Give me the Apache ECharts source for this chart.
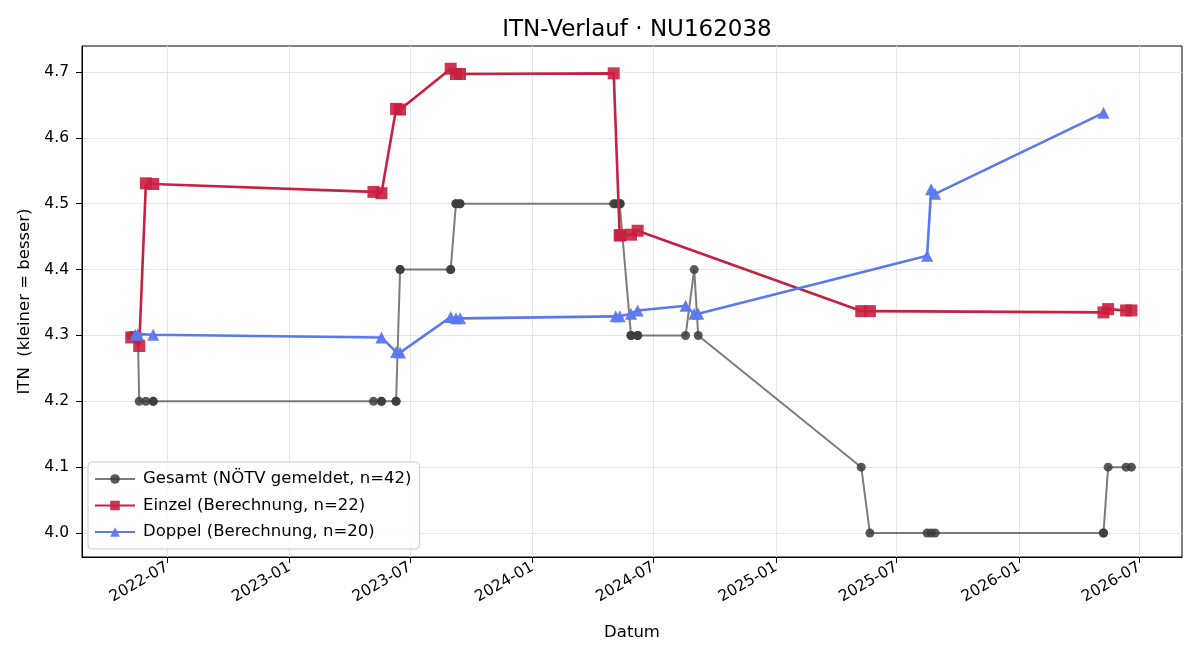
<!DOCTYPE html>
<html>
<head>
<meta charset="utf-8">
<script src="https://cdn.jsdelivr.net/npm/echarts@6/dist/echarts.min.js"></script>
<style>
html,body{margin:0;padding:0;background:#fff;}
#chart{width:1200px;height:660px;}
</style>
</head>
<body>
<div id="chart"></div>
<script>
// ---- Data ----
const gesamtDates = [
  '2022-05-08','2022-05-14','2022-05-18','2022-05-20','2022-05-30','2022-06-10','2022-06-10',
  '2023-05-07','2023-05-19','2023-05-19','2023-06-10','2023-06-10','2023-06-16','2023-06-16',
  '2023-08-31','2023-08-31','2023-09-08','2023-09-08','2023-09-14','2023-09-14',
  '2024-05-02','2024-05-05','2024-05-11','2024-05-11','2024-05-12','2024-05-28','2024-05-28',
  '2024-06-07','2024-06-07','2024-08-18','2024-08-31','2024-09-06',
  '2025-05-09','2025-05-22','2025-08-16','2025-08-22','2025-08-28',
  '2026-05-08','2026-05-08','2026-05-15','2026-06-11','2026-06-19'
];
const gesamtValues = [
  4.3,4.3,4.3,4.2,4.2,4.2,4.2,
  4.2,4.2,4.2,4.2,4.2,4.4,4.4,
  4.4,4.4,4.5,4.5,4.5,4.5,
  4.5,4.5,4.5,4.5,4.5,4.3,4.3,
  4.3,4.3,4.3,4.4,4.3,
  4.1,4.0,4.0,4.0,4.0,
  4.0,4.0,4.1,4.1,4.1
];
const einzelDates = [
  '2022-05-08','2022-05-20','2022-05-30','2022-06-10',
  '2023-05-07','2023-05-19','2023-06-10','2023-06-16',
  '2023-08-31','2023-09-08','2023-09-14',
  '2024-05-02','2024-05-11','2024-05-12','2024-05-28','2024-06-07',
  '2025-05-09','2025-05-22',
  '2026-05-08','2026-05-15','2026-06-11','2026-06-19'
];
const einzelValues = [
  4.297,4.284,4.531,4.530,
  4.518,4.516,4.644,4.643,
  4.705,4.697,4.697,
  4.698,4.452,4.452,4.453,4.459,
  4.337,4.337,
  4.335,4.340,4.338,4.338
];
const doppelDates = [
  '2022-05-14','2022-05-18','2022-06-10',
  '2023-05-19','2023-06-10','2023-06-16',
  '2023-08-31','2023-09-08','2023-09-14',
  '2024-05-05','2024-05-11','2024-05-28','2024-06-07',
  '2024-08-18','2024-08-31','2024-09-06',
  '2025-08-16','2025-08-22','2025-08-28',
  '2026-05-08'
];
const doppelValues = [
  4.301,4.302,4.301,
  4.297,4.275,4.274,
  4.328,4.326,4.326,
  4.329,4.329,4.333,4.338,
  4.345,4.333,4.333,
  4.421,4.522,4.515,
  4.638
];
const xTickLabels = ['2022-07','2023-01','2023-07','2024-01','2024-07','2025-01','2025-07','2026-01','2026-07'];
const yTickValues = [4.0,4.1,4.2,4.3,4.4,4.5,4.6,4.7];

const seriesNames = [
  'Gesamt (NÖTV gemeldet, n=' + gesamtValues.length + ')',
  'Einzel (Berechnung, n=' + einzelValues.length + ')',
  'Doppel (Berechnung, n=' + doppelValues.length + ')'
];

// ---- Helpers ----
function ts(s){ const p = s.split('-').map(Number); return Date.UTC(p[0], p[1]-1, p[2] || 1); }
function pairs(d, v){ return d.map((x,i)=>[ts(x), v[i]]); }
function pad(n){ return n < 10 ? '0' + n : '' + n; }
const xTicks = xTickLabels.map(ts);

const FONT = 'DejaVu Sans';
const chart = echarts.init(document.getElementById('chart'), null, {renderer:'canvas'});
chart.setOption({
  animation: false,
  backgroundColor: '#fff',
  title: {
    text: 'ITN-Verlauf · NU162038',
    left: 632, top: 14, textAlign: 'center',
    textStyle: {fontFamily: FONT, fontSize: 23, fontWeight: 'normal', color: '#000'}
  },
  grid: {left: 82, right: 18, top: 46, bottom: 103, show: true, borderColor: '#000', borderWidth: 1, backgroundColor: 'transparent'},
  legend: {
    orient: 'vertical', left: 88, top: 462,
    padding: [7, 8, 7, 6],
    itemWidth: 40, itemHeight: 12, itemGap: 6.5,
    backgroundColor: 'rgba(255,255,255,0.8)', borderColor: '#cccccc', borderWidth: 1, borderRadius: 4,
    textStyle: {fontFamily: FONT, fontSize: 16.5, color: '#000', lineHeight: 20, padding: [0,0,0,3]},
    data: seriesNames
  },
  xAxis: {
    type: 'value',
    min: ts('2022-02-23'), max: ts('2026-09-03'),
    name: 'Datum', nameLocation: 'middle', nameGap: 67,
    nameTextStyle: {fontFamily: FONT, fontSize: 16.5, color: '#000'},
    axisLine: {show: true, onZero: false, lineStyle: {color: '#000', width: 1}},
    axisTick: {show: true, length: 6, lineStyle: {color: '#000'}, customValues: xTicks},
    axisLabel: {
      customValues: xTicks, rotate: 30, margin: 9,
      fontFamily: FONT, fontSize: 15.5, color: '#000',
      formatter: function(v){ const d = new Date(v); return d.getUTCFullYear() + '-' + pad(d.getUTCMonth()+1); }
    },
    splitLine: {show: true, lineStyle: {color: '#e6e6e6', width: 1}}
  },
  yAxis: {
    type: 'value',
    min: 3.9636, max: 4.7395,
    name: 'ITN  (kleiner = besser)', nameLocation: 'middle', nameGap: 46,
    nameTextStyle: {fontFamily: FONT, fontSize: 16.5, color: '#000'},
    axisLine: {show: true, onZero: false, lineStyle: {color: '#000', width: 1}},
    axisTick: {show: true, length: 6, lineStyle: {color: '#000'}, customValues: yTickValues},
    axisLabel: {
      customValues: yTickValues, margin: 13,
      fontFamily: FONT, fontSize: 15.5, color: '#000',
      formatter: function(v){ return v.toFixed(1); }
    },
    splitLine: {show: true, lineStyle: {color: '#e6e6e6', width: 1}}
  },
  series: [
    {
      name: seriesNames[0], type: 'line', data: pairs(gesamtDates, gesamtValues),
      symbol: 'circle', symbolSize: 9, showAllSymbol: true,
      lineStyle: {color: '#444444', width: 2, opacity: 0.7},
      itemStyle: {color: '#3c3c3c', opacity: 0.85},
      z: 2
    },
    {
      name: seriesNames[1], type: 'line', data: pairs(einzelDates, einzelValues),
      symbol: 'rect', symbolSize: 12, showAllSymbol: true,
      lineStyle: {color: '#c91f40', width: 2.6, opacity: 1},
      itemStyle: {color: '#c91f40', opacity: 0.9},
      z: 3
    },
    {
      name: seriesNames[2], type: 'line', data: pairs(doppelDates, doppelValues),
      symbol: 'triangle', symbolSize: 12, showAllSymbol: true,
      lineStyle: {color: '#5a78f0', width: 2.6, opacity: 1},
      itemStyle: {color: '#5a78f0', opacity: 0.95},
      z: 4
    }
  ]
});
</script>
</body>
</html>
